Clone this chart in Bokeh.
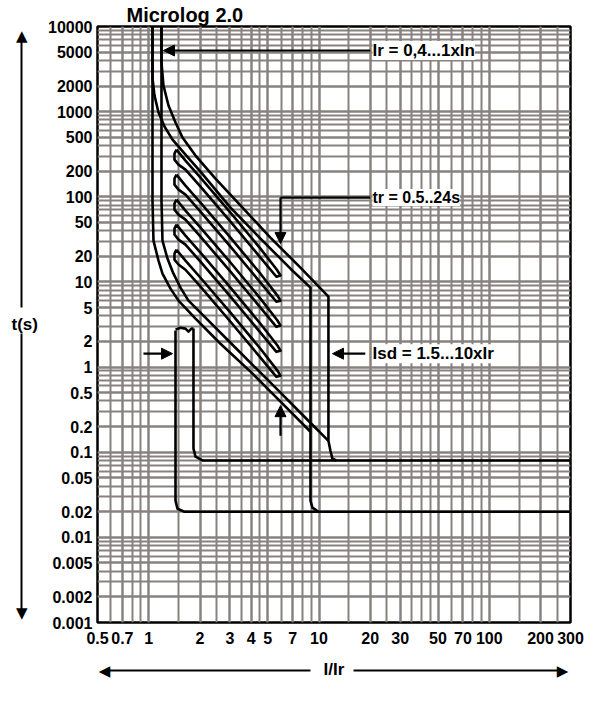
from bokeh.plotting import figure
from bokeh.models import FixedTicker, Label, Arrow, NormalHead, LinearAxis
from bokeh.embed import file_html
from bokeh.resources import INLINE

# ---------------- axis ticks ----------------
x_ticks = [0.5, 0.7, 1, 2, 3, 4, 5, 7, 10, 20, 30, 50, 70, 100, 200, 300]
x_tick_labels = ["0.5", "0.7", "1", "2", "3", "4", "5", "7", "10", "20", "30",
                 "50", "70", "100", "200", "300"]
y_ticks = [0.001, 0.002, 0.005, 0.01, 0.02, 0.05, 0.1, 0.2, 0.5, 1, 2, 5, 10, 20,
           50, 100, 200, 500, 1000, 2000, 5000, 10000]
y_tick_labels = ["0.001", "0.002", "0.005", "0.01", "0.02", "0.05", "0.1", "0.2",
                 "0.5", "1", "2", "5", "10", "20", "50", "100", "200", "500",
                 "1000", "2000", "5000", "10000"]

# ---------------- curves (I/Ir, t[s]) ----------------
# upper long-time band (tr = 24 s), min and max
a_min_I = [1.052, 1.052, 1.081, 1.141, 1.237, 1.379, 1.643, 2.013, 2.465, 3.020,
           4.530, 6.80, 8.91, 8.91, 9.15, 9.92]
a_min_t = [10000, 2449, 1546, 975.8, 668.1, 470.0, 313.3, 197.8, 121.5, 74.7,
           32.3, 14.3, 8.57, 0.0269, 0.0223, 0.02]
a_max_I = [1.188, 1.188, 1.220, 1.306, 1.436, 1.578, 1.882, 2.465, 3.600, 5.18,
           7.78, 11.36, 11.36, 11.67, 11.99, 12.66]
a_max_t = [10000, 3776, 2026, 1180, 744.6, 496.3, 304.9, 163.7, 72.7, 33.2,
           14.7, 6.72, 0.136, 0.104, 0.0839, 0.08]
# lower long-time band (tr = 0.5 s), min and max
b_min_I = [1.052, 1.052, 1.066, 1.141, 1.204, 1.342, 1.495, 1.882, 2.638, 3.957,
           5.86, 8.91]
b_min_t = [10000, 90.2, 30.6, 17.8, 12.5, 8.34, 6.03, 3.70, 1.88, 0.883, 0.403,
           0.174]
b_max_I = [1.188, 1.188, 1.204, 1.288, 1.397, 1.536, 1.711, 2.153, 3.020, 4.530,
           5.86, 7.78, 11.36]
b_max_t = [10000, 90.2, 30.6, 18.8, 12.5, 8.57, 6.03, 3.81, 1.93, 0.859, 0.514,
           0.291, 0.136]
# intermediate tr bands (closed loops)
band_I = [1.455, 1.643, 2.013, 3.020, 4.530, 5.70, 5.94, 5.62, 4.530, 3.020,
          2.013, 1.643, 1.495, 1.416, 1.416, 1.455]
band1_t = [358.5, 266.4, 168.1, 65.2, 24.6, 13.6, 11.9, 11.5, 19.3, 51.1, 131.8,
           208.7, 238.9, 273.6, 321.8, 358.5]
band2_t = [182.3, 135.4, 85.5, 33.1, 12.5, 6.91, 6.03, 5.85, 9.81, 26.0, 67.0,
           106.1, 121.5, 139.1, 163.6, 182.3]
band3_t = [92.7, 68.9, 43.5, 16.9, 6.36, 3.52, 3.07, 2.97, 4.99, 13.2, 34.1,
           53.9, 61.8, 70.7, 83.2, 92.7]
band4_t = [47.1, 35.0, 22.1, 8.57, 3.23, 1.79, 1.56, 1.51, 2.54, 6.71, 17.3,
           27.4, 31.4, 36.0, 42.3, 47.1]
band5_t = [23.9, 17.8, 11.2, 4.36, 1.64, 0.908, 0.792, 0.768, 1.29, 3.41, 8.80,
           13.9, 16.0, 18.3, 21.5, 23.9]
# short-time pickup Isd = 1.5 x Ir (min / max) and its top cap
sd_min_I = [1.436, 1.436, 1.475, 1.621, 300]
sd_min_t = [2.68, 0.0269, 0.0217, 0.02, 0.02]
sd_max_I = [1.831, 1.831, 1.882, 2.068, 300]
sd_max_t = [2.83, 0.110, 0.0886, 0.08, 0.08]
cap_I = [1.436, 1.536, 1.643, 1.711, 1.782, 1.831]
cap_t = [2.75, 2.90, 2.83, 2.61, 2.83, 2.83]

FONT = "Liberation Sans"
GRID = "#878280"

p = figure(width=605, height=707, x_axis_type="log", y_axis_type="log",
           x_range=(0.5, 300), y_range=(0.001, 10000),
           output_backend="svg", toolbar_location=None,
           min_border_left=97, min_border_right=35, min_border_top=26,
           min_border_bottom=85)
p.background_fill_color = "white"
p.border_fill_color = "white"
p.outline_line_color = "black"
p.outline_line_width = 2.5

# title
p.title.text = "Microlog 2.0"
p.title.text_font = FONT
p.title.text_font_style = "bold"
p.title.text_font_size = "20px"
p.title.text_color = "black"
p.title.align = "left"
p.title.offset = 29
p.title.standoff = 1

# grid tickers
x_minor = [m * d for d in [0.1, 1, 10, 100] for m in [1, 1.5, 2, 2.5, 3, 3.5, 4, 4.5, 5, 6, 7, 8, 9]]
x_minor = [v for v in x_minor if 0.5 < v < 300]
y_minor = [m * d for d in [0.001, 0.01, 0.1, 1, 10, 100, 1000] for m in [1, 2, 3, 4, 5, 6, 7, 8, 9]]
xt = FixedTicker(ticks=x_ticks, minor_ticks=x_minor)
yt = FixedTicker(ticks=y_ticks, minor_ticks=y_minor)
p.xaxis.ticker = xt
p.yaxis.ticker = yt
p.xgrid.ticker = xt
p.ygrid.ticker = yt
for g in (p.xgrid, p.ygrid):
    g.grid_line_color = GRID
    g.grid_line_width = 2
    g.minor_grid_line_color = GRID
    g.minor_grid_line_width = 2


def plain(ax):
    ax.axis_line_color = None
    ax.major_tick_line_color = None
    ax.minor_tick_line_color = None
    ax.major_tick_in = 0
    ax.major_tick_out = 0
    ax.minor_tick_in = 0
    ax.minor_tick_out = 0
    ax.major_label_text_color = "black"
    ax.axis_label_text_color = "black"
    ax.axis_label_text_font = FONT
    ax.axis_label_text_font_style = "bold"
    ax.axis_label_text_font_size = "17px"


p.xaxis.major_label_overrides = {v: s for v, s in zip(x_ticks, x_tick_labels)}
p.yaxis.major_label_overrides = {v: s for v, s in zip(y_ticks, y_tick_labels)}
for ax in (p.xaxis, p.yaxis):
    plain(ax)
    ax.major_label_text_font = FONT
    ax.major_label_text_font_style = "bold"
    ax.major_label_text_font_size = "16px"
p.yaxis.major_label_standoff = 5
p.xaxis.major_label_standoff = 9
# empty spacers that push the outer arrows away from the tick labels
p.yaxis.axis_label = "\u2003"
p.yaxis.axis_label_orientation = "horizontal"
p.yaxis.axis_label_text_font_size = "21px"
p.yaxis.axis_label_standoff = 0
p.xaxis.axis_label = "\u2003"
p.xaxis.axis_label_text_font_size = "20px"
p.xaxis.axis_label_standoff = -1

# ---- outer double arrows drawn with extra axes ----
def seg_axis(bounds):
    a = LinearAxis(ticker=FixedTicker(ticks=[]), bounds=bounds)
    plain(a)
    a.axis_line_color = "black"
    a.axis_line_width = 2
    a.major_label_standoff = 0
    return a

p.add_layout(seg_axis((4.99, 7600)), "left")
p.add_layout(seg_axis((0.0013, 2.47)), "left")
lc = LinearAxis(ticker=FixedTicker(ticks=[7838, 0.0013]))
plain(lc)
lc.major_label_overrides = {7838: "\u25b2", 0.0013: "\u25bc"}
lc.major_label_text_font = "DejaVu Sans"
lc.major_label_text_font_size = "15px"
lc.major_label_standoff = -6
lc.axis_label = "t(s)"
lc.axis_label_orientation = "horizontal"
lc.axis_label_standoff = -25
p.add_layout(lc, "left")

p.add_layout(seg_axis((0.557, 8.91)), "below")
p.add_layout(seg_axis((15.9, 268.9)), "below")
bc = LinearAxis(ticker=FixedTicker(ticks=[0.55, 269]))
plain(bc)
bc.major_label_overrides = {0.55: "\u25c0", 269: "\u25b6"}
bc.major_label_text_font = "DejaVu Sans"
bc.major_label_text_font_size = "15px"
bc.major_label_standoff = -9
bc.axis_label = "I/Ir"
bc.axis_label_standoff = -23
p.add_layout(bc, "below")

LW = 2.6
for xs, ys in [(a_min_I, a_min_t), (a_max_I, a_max_t), (b_min_I, b_min_t),
               (b_max_I, b_max_t), (sd_min_I, sd_min_t), (sd_max_I, sd_max_t),
               (cap_I, cap_t), (band_I, band1_t), (band_I, band2_t),
               (band_I, band3_t), (band_I, band4_t), (band_I, band5_t)]:
    p.line(xs, ys, line_color="black", line_width=LW, line_join="round")

# tr pointer line
p.line([20.0, 5.94], [97.9, 97.9], line_color="black", line_width=2.2)

def head(size=11):
    return NormalHead(size=size, fill_color="black", line_color="black", line_width=1)

arrows = [
    (20.0, 5224, 1.22, 5224),      # Ir
    (5.94, 97.9, 5.94, 28.2),      # tr down
    (18.7, 1.437, 12.0, 1.437),    # Isd right
    (0.931, 1.437, 1.379, 1.437),  # Isd left
    (5.94, 0.156, 5.94, 0.352),    # tr up
]
for xs, ys, xe, ye in arrows:
    p.add_layout(Arrow(end=head(), x_start=xs, y_start=ys, x_end=xe, y_end=ye,
                       line_color="black", line_width=2.2))

def lab(x, y, text, size="16px", align="left"):
    p.add_layout(Label(x=x, y=y, text=text, text_font=FONT, text_font_style="bold",
                       text_font_size=size, text_baseline="middle", text_align=align,
                       background_fill_color="white", text_color="black"))

lab(20.6, 5224, "Ir = 0,4...1xIn", "17px")
lab(20.6, 97.9, "tr = 0.5..24s", "16px")
lab(20.6, 1.437, "Isd = 1.5...10xIr", "17px")

open("out.html", "w").write(file_html(p, INLINE))
